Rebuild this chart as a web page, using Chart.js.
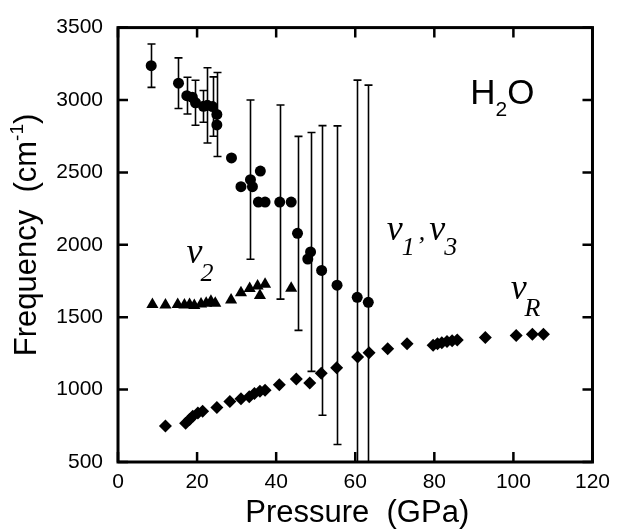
<!DOCTYPE html>
<html>
<head>
<meta charset="utf-8">
<script src="https://cdn.jsdelivr.net/npm/chart.js@4.4.0/dist/chart.umd.min.js"></script>
<style>
  html, body { margin: 0; padding: 0; background: #fff; }
</style>
</head>
<body>
<canvas id="myChart" width="618" height="529"></canvas>
<script>
// nu1, nu3 stretching modes (circles) with error bars
var nu13Pressure = [8.4, 15.3, 17.4, 18.8, 19.6, 21.6, 22.6, 23.9, 25.0, 25.0, 28.7, 31.1, 33.5, 34.0, 36.0, 35.5, 37.2, 40.9, 43.8, 45.4, 48.0, 48.7, 51.5, 55.4, 60.5, 63.3];
var nu13Freq = [3237, 3116, 3030, 3019, 2981, 2956, 2963, 2955, 2900, 2828, 2600, 2401, 2450, 2401, 2509, 2295, 2295, 2295, 2295, 2079, 1902, 1951, 1823, 1721, 1637, 1603];
var nu13Err = [150, 175, 127, 0, 155, 110, 260, 205, 290, 0, 0, 0, 550, 0, 0, 0, 0, 670, 0, 670, 0, 825, 1000, 1100, 1500, 1500];

// nu2 bending mode (triangles)
var nu2Pressure = [8.7, 12.0, 15.1, 16.8, 18.1, 19.3, 21.0, 22.3, 23.5, 24.6, 28.6, 31.1, 33.3, 35.3, 35.9, 37.2, 43.8];
var nu2Freq = [1587, 1585, 1587, 1585, 1587, 1580, 1592, 1596, 1610, 1596, 1619, 1668, 1698, 1715, 1650, 1727, 1700];

// nu_R lattice mode (diamonds)
var nuRPressure = [12.0, 17.1, 18.1, 18.9, 20.2, 21.4, 25.0, 28.3, 31.1, 33.2, 34.5, 35.9, 37.2, 40.8, 45.1, 48.5, 51.4, 55.3, 60.6, 63.5, 68.2, 73.1, 79.7, 80.8, 81.9, 83.2, 84.5, 85.8, 92.9, 100.7, 104.8, 107.6];
var nuRFreq = [749, 767, 794, 816, 838, 850, 877, 917, 936, 951, 973, 989, 996, 1034, 1074, 1045, 1113, 1151, 1226, 1255, 1282, 1317, 1306, 1316, 1324, 1332, 1338, 1342, 1360, 1374, 1383, 1383];

var xTicks = [0, 20, 40, 60, 80, 100, 120];
var yTicks = [500, 1000, 1500, 2000, 2500, 3000, 3500];

function toPoints(xs, ys) {
  return xs.map(function (x, i) { return { x: x, y: ys[i] }; });
}

// draws a run of [text, font, dy, extra gap] pieces starting at x,y
function drawRuns(c, runs, x, y) {
  runs.forEach(function (r) {
    c.font = r[1];
    c.fillText(r[0], x, y + (r[2] || 0));
    x += c.measureText(r[0]).width + (r[3] || 0);
  });
}
function runsWidth(c, runs) {
  var w = 0;
  runs.forEach(function (r) { c.font = r[1]; w += c.measureText(r[0]).width + (r[3] || 0); });
  return w;
}

var sans = "'Liberation Sans', Arial, sans-serif";
var serifI = "italic 36px 'Liberation Serif', 'Times New Roman', serif";
var subI = "italic 26px 'Liberation Serif', 'Times New Roman', serif";

var decor = {
  id: 'decor',
  beforeDatasetsDraw: function (chart) {
    var c = chart.ctx, a = chart.chartArea, xs = chart.scales.x, ys = chart.scales.y;
    c.save();
    c.beginPath();
    c.rect(a.left, a.top, a.right - a.left, a.bottom - a.top);
    c.clip();
    c.strokeStyle = '#000';
    c.lineWidth = 1.6;
    nu13Pressure.forEach(function (p, i) {
      var e = nu13Err[i];
      if (!e) return;
      var px = Math.round(xs.getPixelForValue(p)) + 0.5;
      var top = ys.getPixelForValue(nu13Freq[i] + e);
      var bot = ys.getPixelForValue(nu13Freq[i] - e);
      c.beginPath();
      c.moveTo(px, top); c.lineTo(px, bot);
      c.moveTo(px - 4, top); c.lineTo(px + 4, top);
      c.moveTo(px - 4, bot); c.lineTo(px + 4, bot);
      c.stroke();
    });
    c.restore();
  },
  afterDatasetsDraw: function (chart) {
    var c = chart.ctx, a = chart.chartArea, xs = chart.scales.x, ys = chart.scales.y;
    c.save();
    c.strokeStyle = '#000';
    c.lineWidth = 3;
    c.strokeRect(a.left, a.top, a.right - a.left, a.bottom - a.top);
    c.lineWidth = 2.5;
    c.beginPath();
    xTicks.forEach(function (t) {
      var px = xs.getPixelForValue(t);
      c.moveTo(px, a.bottom); c.lineTo(px, a.bottom - 10);
      c.moveTo(px, a.top); c.lineTo(px, a.top + 10);
    });
    yTicks.forEach(function (t) {
      var py = ys.getPixelForValue(t);
      c.moveTo(a.left, py); c.lineTo(a.left + 10, py);
      c.moveTo(a.right, py); c.lineTo(a.right - 10, py);
    });
    c.stroke();

    c.fillStyle = '#000';
    c.textBaseline = 'alphabetic';
    c.textAlign = 'left';

    // H2O
    drawRuns(c, [['H', '35px ' + sans], ['2', '21px ' + sans, 12], ['O', '35px ' + sans]],
      xs.getPixelForValue(89.1), ys.getPixelForValue(2974));
    // nu2
    drawRuns(c, [['\u03bd', serifI, 0, -2], ['2', subI, 18]],
      xs.getPixelForValue(17.3), ys.getPixelForValue(1875));
    // nu1, nu3
    drawRuns(c, [['\u03bd', serifI, 0, -1], ['1', subI, 15, 4], [',', subI, 0, 4], ['\u03bd', serifI, 0, -1], ['3', subI, 15]],
      xs.getPixelForValue(68.0), ys.getPixelForValue(2030));
    // nuR
    drawRuns(c, [['\u03bd', serifI, 0, -2], ['R', subI, 17]],
      xs.getPixelForValue(99.3), ys.getPixelForValue(1625));

    // axis titles
    var xt = [['Pressure  (GPa)', '31px ' + sans]];
    drawRuns(c, xt, (a.left + a.right) / 2 - runsWidth(c, xt) / 2 + 2, 522);

    var yt = [['Frequency  (cm', '31px ' + sans], ['-1', '19px ' + sans, -13], [')', '31px ' + sans]];
    c.translate(36, 235);
    c.rotate(-Math.PI / 2);
    drawRuns(c, yt, -runsWidth(c, yt) / 2, 0);
    c.restore();
  }
};

function plainLabel(v) { return String(v); }

var ctx = document.getElementById('myChart').getContext('2d');
var myChart = new Chart(ctx, {
  type: 'scatter',
  data: {
    datasets: [{
      label: 'nu1, nu3',
      data: toPoints(nu13Pressure, nu13Freq),
      pointStyle: 'circle',
      pointRadius: 5.5,
      backgroundColor: '#000',
      borderColor: '#000',
      borderWidth: 0
    }, {
      label: 'nu2',
      data: toPoints(nu2Pressure, nu2Freq),
      pointStyle: 'triangle',
      pointRadius: 7,
      backgroundColor: '#000',
      borderColor: '#000',
      borderWidth: 0
    }, {
      label: 'nuR',
      data: toPoints(nuRPressure, nuRFreq),
      pointStyle: 'rectRot',
      pointRadius: 6.5,
      backgroundColor: '#000',
      borderColor: '#000',
      borderWidth: 0
    }]
  },
  options: {
    responsive: false,
    animation: false,
    layout: { padding: { top: 17, right: 24, left: 0, bottom: 0 } },
    plugins: {
      legend: { display: false },
      tooltip: { enabled: false }
    },
    scales: {
      x: {
        type: 'linear',
        min: 0,
        max: 120,
        afterBuildTicks: function (s) { s.ticks = xTicks.map(function (v) { return { value: v }; }); },
        ticks: { padding: 8, color: '#000', callback: plainLabel, font: { family: 'Liberation Sans', size: 21 } },
        grid: { display: false, drawTicks: false },
        border: { display: false },
        afterFit: function (s) { s.height = 67; }
      },
      y: {
        type: 'linear',
        min: 500,
        max: 3500,
        afterBuildTicks: function (s) { s.ticks = yTicks.map(function (v) { return { value: v }; }); },
        ticks: { padding: 15, color: '#000', callback: plainLabel, font: { family: 'Liberation Sans', size: 21 } },
        grid: { display: false, drawTicks: false },
        border: { display: false },
        afterFit: function (s) { s.width = 118; }
      }
    }
  },
  plugins: [decor]
});
</script>
</body>
</html>
